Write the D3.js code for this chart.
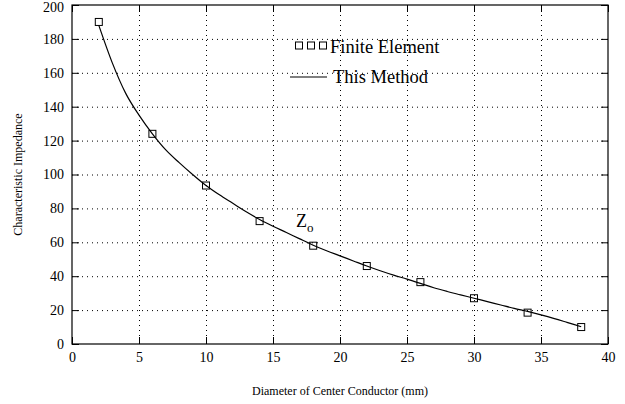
<!DOCTYPE html>
<html><head><meta charset="utf-8">
<script src="https://cdn.jsdelivr.net/npm/d3@7"></script>
<style>body{margin:0;background:#fff}svg{display:block}svg text{font-family:'Liberation Serif','Times New Roman',Times,serif !important;fill:#000}</style>
</head><body><svg id="c" width="625" height="404"></svg>
<script>
const xTicks = [0,5,10,15,20,25,30,35,40];
const yTicks = [0,20,40,60,80,100,120,140,160,180,200];
const feX = [2,6,10,14,18,22,26,30,34,38];
const feY = [190,124,93.5,72.5,58,46,36.5,27,18.5,10];
const methodX = [2,3,4,5,6,7,8,9,10,11,12,13,14,15,16,17,18,19,20,21,22,23,24,25,26,27,28,29,30,31,32,33,34,35,36,37,38];
const methodY = [188,166,148,135,124,114.5,107,100,93.5,88,83,78,73.5,69.5,65.8,62,58.3,55,52,49,46,43.2,40.6,38.3,35.8,33.2,31,29,27,25,23,21,19.2,17.2,15,12.6,10.2];
const legendLabels = ["Finite Element","This Method"];
const xTitle = "Diameter of Center Conductor (mm)";
const yTitle = "Characteristic Impedance";

const FONT = "'Liberation Serif','Times New Roman',Times,serif";
const svg = d3.select("#c");
const L=72,R=608,T=5,B=344;
const x = d3.scaleLinear().domain([0,40]).range([L,R]);
const y = d3.scaleLinear().domain([0,200]).range([B,T]);

// grid
const g = svg.append("g");
g.selectAll(".gx").data(xTicks.slice(1,-1)).enter().append("line")
 .attr("x1",d=>x(d)+0.5).attr("x2",d=>x(d)+0.5).attr("y1",T).attr("y2",B)
 .attr("stroke","#000").attr("stroke-width",1).attr("stroke-dasharray","1,4");
g.selectAll(".gy").data(yTicks.slice(1,-1)).enter().append("line")
 .attr("y1",d=>y(d)+0.5).attr("y2",d=>y(d)+0.5).attr("x1",L).attr("x2",R)
 .attr("stroke","#000").attr("stroke-width",1).attr("stroke-dasharray","1,4");

// axes
const ax = svg.append("g").attr("transform",`translate(0,${B})`)
 .call(d3.axisBottom(x).tickValues(xTicks).tickSize(-7).tickPadding(8).tickFormat(d3.format("d")));
const ay = svg.append("g").attr("transform",`translate(${L},0)`)
 .call(d3.axisLeft(y).tickValues(yTicks).tickSize(-7).tickPadding(8).tickFormat(d3.format("d")));
const axT = svg.append("g").attr("transform",`translate(0,${T})`)
 .call(d3.axisTop(x).tickValues(xTicks).tickSize(-7).tickFormat(""));
const ayR = svg.append("g").attr("transform",`translate(${R},0)`)
 .call(d3.axisRight(y).tickValues(yTicks).tickSize(-7).tickFormat(""));
[ax,ay,axT,ayR].forEach(a=>{a.attr("font-family",FONT).attr("font-size",14);
 a.select(".domain").remove();a.selectAll("line").attr("stroke","#000");
 a.selectAll("text").attr("font-family",FONT).attr("font-size",14);});
ay.selectAll("text").filter(d=>d===200).attr("dy","0.45em");
svg.append("rect").attr("x",L).attr("y",T).attr("width",R-L).attr("height",B-T)
 .attr("fill","none").attr("stroke","#000").attr("stroke-width",1.2);

// method line
svg.append("path").datum(methodX.map((d,i)=>[d,methodY[i]]))
 .attr("fill","none").attr("stroke","#000").attr("stroke-width",1.2)
 .attr("d",d3.line().x(d=>x(d[0])).y(d=>y(d[1])).curve(d3.curveMonotoneX));

// FE squares
svg.selectAll(".fe").data(feX.map((d,i)=>[d,feY[i]])).enter().append("rect")
 .attr("x",d=>x(d[0])-3.5).attr("y",d=>y(d[1])-3.5).attr("width",7).attr("height",7)
 .attr("fill","none").attr("stroke","#000").attr("stroke-width",1);

// legend
[299,311,323].forEach(cx=>svg.append("rect").attr("x",cx-3.5).attr("y",42).attr("width",7).attr("height",7)
 .attr("fill","none").attr("stroke","#000"));
svg.append("text").attr("x",330).attr("y",53).attr("font-family",FONT).attr("font-size",18.5).text(legendLabels[0]);
svg.append("line").attr("x1",290).attr("x2",327).attr("y1",77).attr("y2",77).attr("stroke","#000").attr("stroke-width",1.2);
svg.append("text").attr("x",333).attr("y",83).attr("font-family",FONT).attr("font-size",18.5).text(legendLabels[1]);

// Zo label
const z = svg.append("text").attr("x",296).attr("y",227).attr("font-family",FONT).attr("font-size",18);
z.append("tspan").text("Z");
z.append("tspan").attr("dy",5).attr("font-size",13).text("o");

// titles
svg.append("text").attr("x",(L+R)/2).attr("y",395).attr("text-anchor","middle").attr("font-family",FONT).attr("font-size",12).text(xTitle);
svg.append("text").attr("transform",`translate(22,${(T+B)/2}) rotate(-90)`).attr("text-anchor","middle").attr("font-family",FONT).attr("font-size",12).text(yTitle);
</script></body></html>
